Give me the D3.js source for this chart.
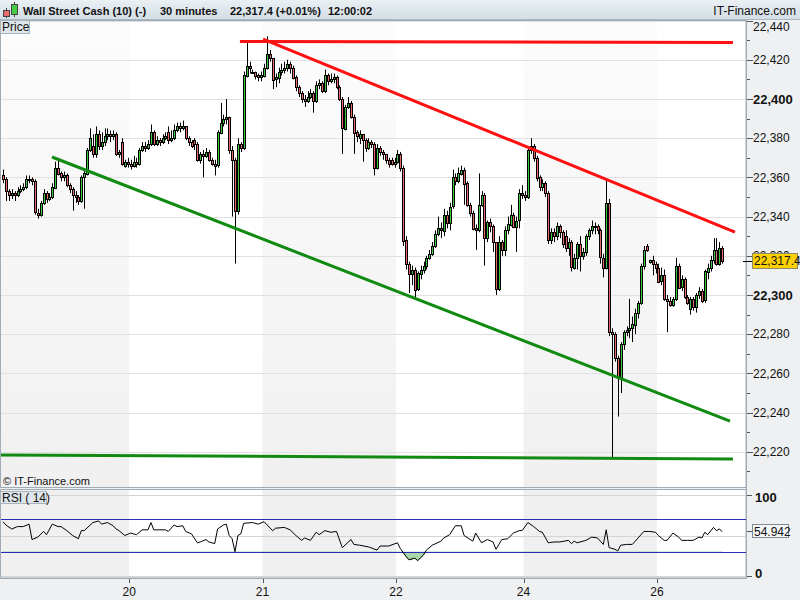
<!DOCTYPE html>
<html><head><meta charset="utf-8">
<script src="https://cdn.jsdelivr.net/npm/d3@7"></script>
<style>
html,body{margin:0;padding:0;background:#fff;}
svg{display:block;font-family:"Liberation Sans",Arial,sans-serif;}
</style></head><body>
<svg id="c" width="800" height="600"></svg>
<script>
// ---------- DATA (30-minute candles, Wall Street Cash) ----------
const opens = [
22361,22359,22353,22351,22352,22351,22353,22354,22355,22359,
22359,22358,22342,22341,22347,22352,22349,22350,22355,22365,
22362,22360,22361,22356,22354,22351,22350,22348,22360,22362,
22374,22376,22372,22382,22376,22378,22381,22382,22381,22382,
22372,22378,22366,22368,22367,22366,22368,22367,22374,22376,
22375,22377,22383,22377,22379,22378,22380,22383,22379,22380,
22384,22386,22385,22386,22380,22378,22379,22377,22369,22372,
22371,22373,22369,22367,22366,22383,22388,22390,22391,22374,
22369,22343,22377,22375,22412,22417,22414,22414,22412,22411,
22412,22416,22423,22421,22410,22411,22414,22415,22416,22418,
22416,22411,22406,22403,22400,22399,22401,22403,22399,22407,
22408,22404,22412,22409,22410,22411,22406,22400,22385,22396,
22398,22391,22383,22380,22382,22379,22375,22378,22377,22365,
22375,22373,22372,22369,22369,22367,22368,22372,22365,22328,
22316,22311,22313,22303,22311,22313,22315,22319,22321,22325,
22331,22334,22333,22341,22337,22345,22360,22358,22362,22364,
22357,22346,22342,22334,22333,22346,22351,22329,22337,22335,
22327,22303,22327,22323,22333,22336,22341,22335,22338,22352,
22351,22350,22374,22376,22370,22360,22355,22357,22352,22328,
22332,22330,22335,22332,22330,22324,22327,22314,22319,22326,
22320,22322,22330,22333,22335,22335,22333,22319,22314,22347,
22281,22280,22268,22258,22275,22281,22282,22283,22285,22291,
22296,22315,22325,22317,22318,22316,22314,22307,22310,22298,
22297,22295,22298,22315,22304,22308,22299,22293,22298,22294,
22300,22302,22297,22312,22314,22318,22323,22316,22324];
const highs = [
22364,22360,22354,22354,22353,22355,22356,22357,22361,22361,
22360,22359,22344,22348,22354,22353,22352,22357,22368,22370,
22363,22363,22362,22357,22355,22353,22351,22361,22364,22375,
22385,22382,22386,22384,22383,22385,22385,22384,22384,22383,
22374,22380,22369,22370,22369,22371,22370,22375,22378,22378,
22379,22387,22384,22381,22380,22382,22383,22386,22384,22387,
22388,22388,22389,22386,22381,22379,22380,22378,22373,22374,
22375,22374,22370,22369,22384,22398,22392,22400,22391,22376,
22370,22380,22378,22414,22429,22419,22415,22414,22413,22414,
22418,22432,22425,22421,22413,22416,22418,22419,22420,22419,
22417,22412,22407,22404,22402,22404,22405,22404,22409,22410,
22409,22415,22413,22413,22413,22412,22407,22401,22397,22401,
22399,22392,22384,22384,22382,22380,22380,22379,22378,22377,
22376,22374,22372,22370,22370,22370,22374,22373,22366,22330,
22317,22315,22314,22312,22315,22317,22320,22323,22327,22333,
22340,22337,22344,22343,22347,22364,22362,22365,22366,22365,
22358,22347,22343,22336,22362,22353,22352,22338,22339,22336,
22327,22330,22328,22335,22340,22346,22342,22340,22354,22356,
22353,22376,22380,22377,22371,22361,22359,22358,22353,22334,
22334,22337,22336,22333,22333,22329,22328,22321,22327,22330,
22324,22331,22334,22338,22337,22336,22334,22321,22359,22349,
22283,22281,22269,22276,22282,22284,22298,22289,22293,22297,
22316,22325,22326,22318,22320,22317,22316,22314,22313,22300,
22299,22299,22319,22316,22310,22309,22300,22299,22299,22301,
22304,22303,22313,22316,22320,22329,22329,22327,22325];
const lows = [
22357,22348,22348,22349,22348,22350,22352,22353,22354,22357,
22356,22341,22339,22340,22346,22347,22348,22349,22354,22361,
22358,22358,22355,22352,22343,22347,22346,22347,22344,22361,
22373,22370,22370,22374,22374,22376,22379,22378,22379,22371,
22370,22366,22365,22365,22364,22365,22365,22366,22373,22373,
22374,22376,22376,22376,22376,22377,22379,22377,22378,22379,
22383,22383,22384,22379,22376,22375,22374,22368,22367,22360,
22370,22368,22366,22361,22365,22382,22386,22387,22372,22340,
22316,22341,22373,22374,22411,22413,22413,22410,22409,22409,
22411,22415,22419,22405,22406,22408,22412,22413,22414,22413,
22410,22404,22401,22398,22396,22398,22400,22393,22398,22405,
22403,22403,22407,22408,22408,22405,22399,22372,22384,22395,
22390,22372,22378,22377,22368,22373,22374,22375,22361,22364,
22371,22369,22367,22365,22366,22365,22367,22363,22325,22313,
22301,22305,22298,22302,22308,22311,22313,22318,22320,22324,
22330,22329,22330,22334,22333,22344,22356,22357,22361,22346,
22345,22340,22333,22323,22332,22345,22315,22327,22332,22322,
22300,22302,22320,22320,22331,22335,22334,22322,22334,22349,
22348,22349,22372,22368,22358,22353,22353,22350,22326,22326,
22327,22328,22329,22324,22322,22320,22312,22313,22313,22312,
22318,22320,22328,22331,22331,22331,22316,22309,22313,22279,
22217,22266,22238,22250,22272,22279,22278,22276,22280,22288,
22295,22313,22322,22316,22310,22311,22306,22305,22297,22281,
22294,22294,22297,22303,22302,22298,22295,22290,22292,22291,
22298,22296,22296,22308,22312,22316,22315,22315,22316];
const closes = [
22359,22353,22351,22352,22351,22353,22354,22355,22359,22359,
22358,22342,22341,22347,22352,22349,22350,22355,22365,22362,
22360,22361,22356,22354,22351,22350,22348,22360,22362,22374,
22380,22372,22382,22376,22378,22381,22382,22381,22382,22372,
22373,22367,22368,22367,22366,22368,22367,22374,22376,22375,
22377,22383,22377,22379,22378,22380,22381,22379,22380,22384,
22386,22385,22386,22380,22378,22376,22377,22369,22372,22371,
22373,22369,22367,22366,22383,22388,22390,22391,22374,22369,
22343,22377,22375,22412,22417,22416,22414,22412,22411,22412,
22416,22423,22421,22410,22411,22414,22415,22416,22418,22416,
22411,22406,22403,22400,22399,22401,22403,22399,22407,22408,
22404,22412,22409,22410,22411,22406,22400,22385,22396,22398,
22391,22383,22381,22382,22379,22375,22378,22377,22365,22375,
22373,22372,22369,22367,22367,22368,22372,22365,22328,22316,
22311,22313,22303,22311,22313,22315,22319,22321,22325,22331,
22334,22333,22341,22337,22345,22360,22358,22362,22364,22357,
22346,22342,22334,22333,22346,22351,22329,22337,22335,22327,
22303,22327,22323,22333,22336,22341,22335,22338,22352,22351,
22350,22374,22376,22370,22360,22355,22357,22352,22328,22332,
22330,22335,22332,22326,22324,22327,22314,22319,22326,22320,
22322,22330,22333,22335,22335,22333,22319,22314,22347,22281,
22280,22268,22258,22275,22281,22282,22283,22285,22291,22296,
22315,22323,22323,22318,22316,22314,22307,22310,22298,22297,
22295,22298,22315,22304,22308,22299,22296,22298,22294,22300,
22302,22297,22312,22314,22318,22323,22316,22324,22317.4];

// RSI(14) readings: bar index and value
const rsiBars = [0,1,3,5,7,9,10,12,14,15,17,19,20,22,24,26,27,28,31,33,34,36,38,39,40,42,44,46,48,50,51,52,54,56,57,59,60,62,63,65,67,68,70,71,73,74,76,77,78,79,80,81,82,83,86,88,90,93,94,97,99,101,103,104,106,108,109,111,113,115,117,120,121,123,126,129,130,133,136,137,139,140,142,143,145,146,148,151,152,154,156,158,159,162,163,165,167,169,170,172,174,176,178,179,181,183,185,186,188,190,192,195,196,197,198,201,203,205,207,208,209,211,212,213,215,217,219,221,223,225,226,228,229,231,233,234,236,238,240,241,242,243,245,246,247,248];
const rsiValues = [67,63,58,61,61,64,45,48,55,51,64,61,61,56,50,46,56,56,66,68,64,66,62,58,56,50,53,51,57,57,66,57,57,57,55,63,61,62,55,52,41,42,45,42,40,58,63,64,50,46,30,50,52,65,66,64,67,56,59,60,57,50,44,47,44,54,51,56,54,55,35,45,39,38,36,32,37,37,41,34,24,20,22,19,26,32,38,43,47,51,62,62,50,43,53,41,45,42,33,45,46,53,56,56,66,61,55,54,41,42,42,44,40,43,41,44,48,47,39,57,35,33,31,38,39,39,47,55,55,54,50,44,44,53,48,44,44,44,48,47,54,51,60,56,58,54.942];

// Drawn trend lines: [bar index, price]
const redFlat = [[81.7,22429.3],[251.7,22428.8]];
const redFalling = [[89.7,22430.6],[252.4,22332.1]];
const greenFalling = [[16.9,22370.4],[250.7,22235.7]];
const greenFlat = [[-1,22218.4],[251.7,22216.3]];

// Axis / date labels
const priceTicks = d3.range(22220, 22441, 20);
const priceMinor = d3.range(22210, 22441, 10);
const dayBars = [43.5, 89.5, 135.5, 179.5, 225.5];
const dayLabels = ["20","21","22","24","26"];
const lastPrice = 22317.4;
const lastRsi = 54.942;
const headerParts = ["Wall Street Cash (10) (-)","30 minutes","22,317.4 (+0.01%)","12:00:02"];

// ---------- LAYOUT ----------
const svg = d3.select("#c");
const W=800,H=600;
const L=1, R=746, T=20, B=487;
const RT=490, RB=577;
const x = d3.scaleLinear().domain([0,248]).range([3,722.2]);
const y = d3.scaleLinear().domain([22220,22440]).range([451.8,20.6]);
const yr = d3.scaleLinear().domain([0,100]).range([576,495]);
const fmt = d3.format(",");

const defs = svg.append("defs");
const hg = defs.append("linearGradient").attr("id","hdr").attr("x1",0).attr("y1",0).attr("x2",0).attr("y2",1);
hg.append("stop").attr("offset","0%").attr("stop-color","#eaf0f4");
hg.append("stop").attr("offset","100%").attr("stop-color","#d2dde4");
const sg = defs.append("linearGradient").attr("id","shade").attr("x1",0).attr("y1",0).attr("x2",0).attr("y2",1);
sg.append("stop").attr("offset","0%").attr("stop-color","#fcfcfc");
sg.append("stop").attr("offset","100%").attr("stop-color","#f0f0f0");
defs.append("clipPath").attr("id","mainClip").append("rect").attr("x",L).attr("y",T).attr("width",R-L).attr("height",B-T);
defs.append("clipPath").attr("id","rsiClip").append("rect").attr("x",L).attr("y",RT).attr("width",R-L).attr("height",RB-RT);
defs.append("clipPath").attr("id","below30").append("rect").attr("x",L).attr("y",yr(30)).attr("width",R-L).attr("height",RB-yr(30));
defs.append("clipPath").attr("id","axisClip").append("rect").attr("x",747).attr("y",20).attr("width",53).attr("height",580);

svg.append("rect").attr("width",W).attr("height",H).attr("fill","#eef0f2");

// Header
svg.append("rect").attr("x",0).attr("y",0).attr("width",W).attr("height",20).attr("fill","url(#hdr)");
svg.append("line").attr("x1",0).attr("x2",W).attr("y1",19.5).attr("y2",19.5).attr("stroke","#a9b7c2");
const ic = svg.append("g");
ic.append("line").attr("x1",6.5).attr("x2",6.5).attr("y1",8).attr("y2",18).attr("stroke","#444");
ic.append("rect").attr("x",3.5).attr("y",10.5).attr("width",6).attr("height",6).attr("fill","#e66a6a").attr("stroke","#444");
ic.append("line").attr("x1",14.5).attr("x2",14.5).attr("y1",2).attr("y2",17).attr("stroke","#444");
ic.append("rect").attr("x",11.5).attr("y",4.5).attr("width",6).attr("height",10).attr("fill","#44cc44").attr("stroke","#444");
const hx = [23,160,230,328];
svg.selectAll("text.h").data(headerParts).join("text").attr("class","h")
  .attr("x",(d,k)=>hx[k]).attr("y",15).attr("font-size",11).attr("font-weight","bold").attr("fill","#111").text(d=>d);
svg.append("text").attr("x",796).attr("y",15).attr("text-anchor","end").attr("font-size",12).attr("fill","#111").text("IT-Finance.com");

// Panels
function bands(top,bottom,fill){
  const edges=[L,...dayBars.map(x),R];
  for(let k=0;k<edges.length-1;k++){
    if(k%2===0) svg.append("rect").attr("x",edges[k]).attr("y",top).attr("width",edges[k+1]-edges[k]).attr("height",bottom-top).attr("fill",fill);
  }
}
svg.append("rect").attr("x",L).attr("y",T).attr("width",R-L).attr("height",B-T).attr("fill","#fff");
bands(T,B,"url(#shade)");
svg.append("rect").attr("x",L).attr("y",RT).attr("width",R-L).attr("height",RB-RT).attr("fill","#fff");
bands(RT,RB,"#f0f0f0");

// grid
svg.append("g").selectAll("line").data(priceTicks).join("line")
  .attr("x1",L).attr("x2",R).attr("y1",d=>Math.round(y(d))+0.5).attr("y2",d=>Math.round(y(d))+0.5)
  .attr("stroke","#e1e1e1");

// candles
const n = Math.min(opens.length,highs.length,lows.length,closes.length);
const candles = d3.range(n).map(i=>({i,o:opens[i],h:highs[i],l:lows[i],c:closes[i]}));
const cg = svg.append("g").attr("clip-path","url(#mainClip)");
cg.selectAll("line.w").data(candles).join("line").attr("class","w")
  .attr("x1",d=>Math.round(x(d.i))+0.5).attr("x2",d=>Math.round(x(d.i))+0.5)
  .attr("y1",d=>y(d.h)).attr("y2",d=>y(d.l)).attr("stroke","#000").attr("stroke-width",1);
cg.selectAll("rect.b").data(candles).join("rect").attr("class","b")
  .attr("x",d=>Math.round(x(d.i))-0.5)
  .attr("y",d=>Math.round(y(Math.max(d.o,d.c)))+0.5)
  .attr("width",2)
  .attr("height",d=>Math.max(1,Math.round(Math.abs(y(d.o)-y(d.c)))))
  .attr("fill",d=>d.c>=d.o?"#3fc83f":"#e66a6a")
  .attr("stroke","#000").attr("stroke-width",1);

// trend lines
const tl = d3.line().x(d=>x(d[0])).y(d=>y(d[1]));
const lg = svg.append("g").attr("clip-path","url(#mainClip)");
[[redFlat,"#ff1010"],[redFalling,"#ff1010"],[greenFalling,"#108a10"],[greenFlat,"#108a10"]].forEach(([d,c])=>{
  lg.append("path").attr("d",tl(d)).attr("fill","none").attr("stroke",c).attr("stroke-width",3);
});

// panel borders
svg.append("rect").attr("x",L-0.5).attr("y",T+0.5).attr("width",R-L+0.5).attr("height",B-T).attr("fill","none").attr("stroke","#9fabb5");
svg.append("rect").attr("x",L-0.5).attr("y",RT-0.5).attr("width",R-L+0.5).attr("height",RB-RT+0.5).attr("fill","none").attr("stroke","#9fabb5");

// "Price" tag and copyright
svg.append("rect").attr("x",0.5).attr("y",20.5).attr("width",29).attr("height",13).attr("fill","#dfe6ea").attr("stroke","#a8b3bc");
svg.append("text").attr("x",2).attr("y",31).attr("font-size",12).attr("fill","#111").text("Price");
svg.append("text").attr("x",3).attr("y",485).attr("font-size",11).attr("fill","#111").text("\u00A9 IT-Finance.com");

// RSI panel
[100,50,0].forEach(v=>svg.append("line").attr("x1",L).attr("x2",R).attr("y1",Math.round(yr(v))+0.5).attr("y2",Math.round(yr(v))+0.5).attr("stroke","#d4d4d4"));
const rsiPts = rsiBars.map((b,k)=>[b,rsiValues[k]]);
const rg = svg.append("g").attr("clip-path","url(#rsiClip)");
rg.append("path").attr("clip-path","url(#below30)")
  .attr("d",d3.area().x(d=>x(d[0])).y0(yr(30)).y1(d=>yr(d[1]))(rsiPts))
  .attr("fill","#a8d8a8").attr("stroke","#5aa65a").attr("stroke-width",0.8);
[70,30].forEach(v=>rg.append("line").attr("x1",L).attr("x2",R).attr("y1",Math.round(yr(v))+0.5).attr("y2",Math.round(yr(v))+0.5).attr("stroke","#2b2bb8").attr("stroke-width",1));
rg.append("path").attr("d",d3.line().x(d=>x(d[0])).y(d=>yr(d[1]))(rsiPts)).attr("fill","none").attr("stroke","#000").attr("stroke-width",1);
svg.append("rect").attr("x",0.5).attr("y",491.5).attr("width",46).attr("height",12).attr("fill","#dfe6ea").attr("stroke","#a8b3bc");
svg.append("text").attr("x",2).attr("y",502).attr("font-size",12).attr("fill","#111").text("RSI ( 14)");

// Right axis
svg.append("line").attr("x1",746.5).attr("x2",746.5).attr("y1",20).attr("y2",579).attr("stroke","#9fabb5");
svg.append("g").selectAll("line").data(priceMinor).join("line")
  .attr("x1",747).attr("x2",d=>d%20===0?753:750)
  .attr("y1",d=>Math.round(y(d))+0.5).attr("y2",d=>Math.round(y(d))+0.5).attr("stroke","#555");
const yLast = Math.round(y(lastPrice));
// tick labels (the one under the last-price tag is only visible above the tag)
const ag = svg.append("g");
ag.selectAll("text").data(priceTicks.filter(d=>Math.abs(y(d)-yLast)>9)).join("text")
  .attr("x",753).attr("y",d=>Math.max(y(d),27)).attr("dy","0.35em")
  .attr("font-size",d=>d%100===0?13:12).attr("font-weight",d=>d%100===0?"bold":"normal")
  .attr("fill","#111").text(d=>fmt(d));
const hidden = priceTicks.filter(d=>Math.abs(y(d)-yLast)<=9);
defs.append("clipPath").attr("id","peek").append("rect").attr("x",747).attr("y",yLast-14).attr("width",53).attr("height",6);
ag.selectAll("text.hid").data(hidden).join("text").attr("class","hid").attr("clip-path","url(#peek)")
  .attr("x",753).attr("y",d=>y(d)).attr("dy","0.35em").attr("font-size",12).attr("fill","#111").text(d=>fmt(d));
svg.append("line").attr("x1",743).attr("x2",752).attr("y1",yLast+0.5).attr("y2",yLast+0.5).attr("stroke","#000");
svg.append("rect").attr("x",752.5).attr("y",yLast-7.5).attr("width",45).attr("height",15).attr("fill","#ffd000").attr("stroke","#8a8a6a");
svg.append("text").attr("x",754).attr("y",y(lastPrice)).attr("dy","0.36em").attr("font-size",12).attr("fill","#111").text(d3.format(",.1f")(lastPrice));

// RSI axis
[100,0].forEach(v=>{
  svg.append("line").attr("x1",747).attr("x2",752).attr("y1",Math.round(yr(v))+0.5).attr("y2",Math.round(yr(v))+0.5).attr("stroke","#555");
  svg.append("text").attr("x",755).attr("y",v===100?yr(v)+2:yr(v)-3).attr("dy","0.35em").attr("font-size",13).attr("font-weight","bold").attr("fill","#111").text(v);
});
svg.append("line").attr("x1",747).attr("x2",752).attr("y1",Math.round(yr(lastRsi))+0.5).attr("y2",Math.round(yr(lastRsi))+0.5).attr("stroke","#555");
svg.append("rect").attr("x",752.5).attr("y",Math.round(yr(lastRsi))-6.5).attr("width",36).attr("height",13).attr("fill","#f4f5f6").attr("stroke","#7f8a94");
svg.append("text").attr("x",754).attr("y",yr(lastRsi)).attr("dy","0.36em").attr("font-size",12).attr("fill","#111").text(lastRsi);

// Date axis
svg.append("line").attr("x1",0).attr("x2",747).attr("y1",578.5).attr("y2",578.5).attr("stroke","#9fabb5");
dayBars.forEach((b,k)=>{
  svg.append("line").attr("x1",Math.round(x(b))+0.5).attr("x2",Math.round(x(b))+0.5).attr("y1",579).attr("y2",583).attr("stroke","#555");
  svg.append("text").attr("x",x(b)).attr("y",596).attr("text-anchor","middle").attr("font-size",12).attr("fill","#111").text(dayLabels[k]);
});
</script>
</body></html>
